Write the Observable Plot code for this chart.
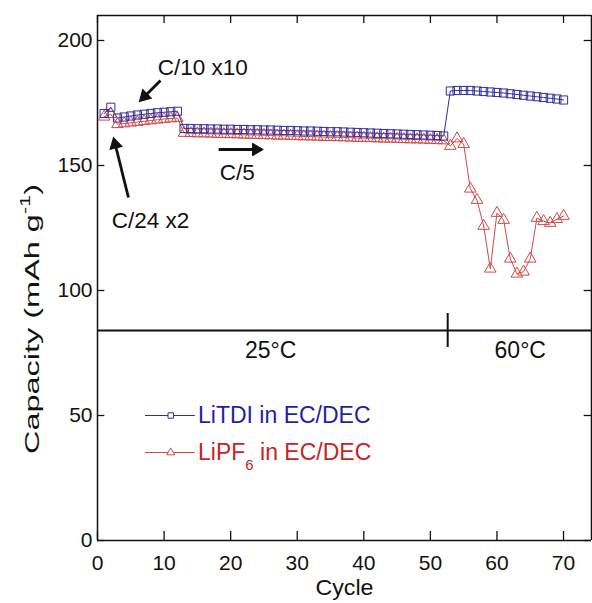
<!DOCTYPE html>
<html><head><meta charset="utf-8">
<script src="https://cdn.jsdelivr.net/npm/d3@7"></script>
<script src="https://cdn.jsdelivr.net/npm/@observablehq/plot@0.6"></script>
<style>html,body{margin:0;padding:0;background:#fff}#chart svg{display:block}</style>
</head><body><div id="chart"></div>
<script>
// ---- data ----
const cycles = d3.range(1, 71);
const litdi = [170.8,173.3,169.0,169.4,169.8,170.2,170.5,170.8,171.1,171.3,171.5,171.7,
  164.8,164.8,164.7,164.7,164.6,164.6,164.5,164.5,164.4,164.4,
  164.3,164.3,164.2,164.2,164.1,164.0,164.0,163.9,163.8,163.8,
  163.7,163.6,163.5,163.5,163.4,163.3,163.2,163.1,163.0,162.9,
  162.8,162.7,162.6,162.5,162.4,162.3,162.2,162.1,162.0,161.8,
  179.8,180.0,180.0,180.0,179.8,179.6,179.4,179.2,179.0,178.7,178.4,178.1,177.8,177.5,177.2,176.9,176.6,176.2];
const lipf6 = [169.5,170.5,166.5,166.8,167.1,167.4,167.7,168.0,168.3,168.6,168.8,169.0,
  163.0,162.9,162.8,162.8,162.7,162.6,162.5,162.5,162.4,162.3,
  162.2,162.2,162.1,162.0,161.9,161.9,161.8,161.7,161.6,161.6,
  161.5,161.4,161.3,161.3,161.2,161.1,161.0,161.0,160.9,160.8,
  160.7,160.7,160.6,160.5,160.4,160.4,160.3,160.2,160.1,160.0,
  157.8,160.8,158.5,140.7,136.2,125.8,108.7,131.0,128.2,112.7,106.7,107.5,112.7,129.0,127.7,127.0,128.5,129.8];
const xTicks = [0,10,20,30,40,50,60,70];
const yTicks = [0,50,100,150,200];
const seriesNames = ["LiTDI in EC/DEC", "LiPF6 in EC/DEC"];
const tempLabels = ["25°C", "60°C"];
const tempLabelX = [26, 63.5];
const tempLabelY = 76;
const tempLineY = 84;
const tempSwitchCycle = 52.6;
const annotations = ["C/10 x10", "C/24 x2", "C/5"];
const annX = [15.8, 7.96, 21.0];
const annY = [189.2, 128, 147.2];
const arrowX1 = [9.46, 4.65, 18.2], arrowY1 = [184, 137.2, 156.4];
const arrowX2 = [6.3, 2.4, 24.9],  arrowY2 = [175.6, 161.2, 156.4];
const legendY = [50, 35.2];
const legendX1 = 7.2, legendX2 = 14.7, legendMarkX = 11, legendTextX = 15.1;

const xMax = 74.2, yMax = 210;
const W = 592, H = 603, ML = 97, MR = 1, MT = 15, MB = 63;
const BLUE = "#2e2ea0", RED = "#d04848";
const BLUE_T = "#1f1fa8", RED_T = "#c82424";

const dA = cycles.map((c,i) => ({x:c, y:litdi[i]}));
const dB = cycles.map((c,i) => ({x:c, y:lipf6[i]}));
const ann = annotations.map((t,i) => ({t, x:annX[i], y:annY[i]}));
const temps = tempLabels.map((t,i) => ({t, x:tempLabelX[i], y:tempLabelY}));
const leg = seriesNames.map((n,i) => ({n, y:legendY[i], color:[BLUE,RED][i], tcolor:[BLUE_T,RED_T][i], sym:["square","triangle"][i], r:[4.6,4.3][i]}));

// arrow geometry: shaft ends at the centre of a filled triangular head
const kx = (W - ML - MR) / xMax, ky = (H - MT - MB) / yMax; // px per unit
const HEAD_R = 4.6, tipOffset = HEAD_R * 2.694 * Math.sqrt(3) / 2 * 2 / 3;
const arrows = arrowX1.map((_, i) => {
  const dxp = (arrowX2[i] - arrowX1[i]) * kx, dyp = -(arrowY2[i] - arrowY1[i]) * ky;
  const len = Math.hypot(dxp, dyp), ux = dxp / len, uy = dyp / len;
  const cx = arrowX2[i] - ux * tipOffset / kx, cy = arrowY2[i] + uy * tipOffset / ky;
  return {x1: arrowX1[i], y1: arrowY1[i], x2: cx, y2: cy, rot: Math.atan2(ux, -uy) * 180 / Math.PI};
});

const FONT = "'Liberation Sans', Arial, sans-serif";
const plot = Plot.plot({
  width: W, height: H,
  marginLeft: ML, marginRight: MR, marginTop: MT, marginBottom: MB,
  x: {domain: [0, xMax]},
  y: {domain: [0, yMax]},
  style: {fontFamily: FONT, fontSize: "21px", color: "#111", background: "#fff"},
  marks: [
    // frame
    Plot.ruleY([0, yMax], {stroke: "#111", strokeWidth: 1.5}),
    Plot.ruleX([0, xMax], {stroke: "#111", strokeWidth: 1.5}),
    // inward ticks
    Plot.ruleX(xTicks, {x: d => d, y1: 0, y2: 3.6, stroke: "#111", strokeWidth: 1.3}),
    Plot.ruleX(xTicks, {x: d => d, y1: yMax, y2: yMax - 3.2, stroke: "#111", strokeWidth: 1.3}),
    Plot.ruleY(yTicks, {y: d => d, x1: 0, x2: 1.1, stroke: "#111", strokeWidth: 1.3}),
    Plot.ruleY(yTicks, {y: d => d, x1: xMax, x2: xMax - 1.1, stroke: "#111", strokeWidth: 1.3}),
    // tick labels
    Plot.axisX({ticks: xTicks, tickSize: 0, tickPadding: 15, fontSize: 21, label: null}),
    Plot.axisY({ticks: yTicks, tickSize: 0, tickPadding: 5, fontSize: 21, label: null}),
    Plot.text(["Cycle"], {text: d => d, frameAnchor: "bottom", dy: 54, fontSize: 22, textAnchor: "middle"}),
    Plot.text(["Capacity (mAh g-1)"], {text: d => d, frameAnchor: "left", textAnchor: "middle", rotate: -90, dx: -65, dy: 41, fontSize: 21}),
    // temperature divider
    Plot.ruleY([tempLineY], {stroke: "#111", strokeWidth: 2}),
    Plot.ruleX([tempSwitchCycle], {y1: tempLineY - 6.8, y2: tempLineY + 6.8, stroke: "#111", strokeWidth: 2}),
    Plot.text(temps, {x: "x", y: "y", text: "t", fontSize: 23, fill: "#111"}),
    // series
    Plot.line(dA, {x: "x", y: "y", stroke: BLUE, strokeWidth: 1}),
    Plot.line(dB, {x: "x", y: "y", stroke: RED, strokeWidth: 1}),
    Plot.dot(dB, {x: "x", y: "y", symbol: "triangle", r: 4.3, stroke: RED, fill: "none", strokeWidth: 1}),
    Plot.dot(dA, {x: "x", y: "y", symbol: "square", r: 4.6, stroke: BLUE, fill: "none", strokeWidth: 1}),
    // annotations
    Plot.link(arrows, {x1: "x1", y1: "y1", x2: "x2", y2: "y2", stroke: "#111", strokeWidth: 2.8}),
    Plot.dot(arrows, {x: "x2", y: "y2", symbol: "triangle", r: HEAD_R, rotate: "rot", fill: "#111", stroke: "#111", strokeWidth: 1}),
    Plot.text(ann, {x: "x", y: "y", text: "t", fontSize: 22.5, fill: "#111"}),
    // legend
    Plot.ruleY(leg, {y: "y", x1: legendX1, x2: legendX2, stroke: "color", strokeWidth: 1}),
    Plot.dot(leg, {x: legendMarkX, y: "y", symbol: "sym", r: "r", stroke: "color", fill: "white", strokeWidth: 1}),
    Plot.text(leg, {x: legendTextX, y: "y", text: "n", fill: "tcolor", textAnchor: "start", fontSize: 23})
  ]
});
document.getElementById("chart").appendChild(plot);

// sub/superscripts as real text
const NS = "http://www.w3.org/2000/svg";
function rich(t, parts) {
  while (t.firstChild) t.removeChild(t.firstChild);
  for (const p of parts) {
    const ts = document.createElementNS(NS, "tspan");
    ts.textContent = p.s;
    if (p.dy) ts.setAttribute("dy", p.dy);
    if (p.size) ts.setAttribute("font-size", p.size);
    t.appendChild(ts);
  }
}
plot.querySelectorAll("text").forEach(t => {
  if (t.textContent === "Capacity (mAh g-1)") {
    rich(t, [{s: "Capacity (mAh g"}, {s: "-1", dy: "-9", size: "14"}, {s: ")", dy: "9"}]);
    t.setAttribute("textLength", "270");
    t.setAttribute("lengthAdjust", "spacingAndGlyphs");
  } else if (t.textContent === "LiPF6 in EC/DEC") {
    rich(t, [{s: "LiPF"}, {s: "6", dy: "10", size: "15"}, {s: " in EC/DEC", dy: "-10"}]);
  } else if (t.textContent === "Cycle") {
    t.setAttribute("textLength", "58");
    t.setAttribute("lengthAdjust", "spacingAndGlyphs");
  }
});
</script>
</body></html>
